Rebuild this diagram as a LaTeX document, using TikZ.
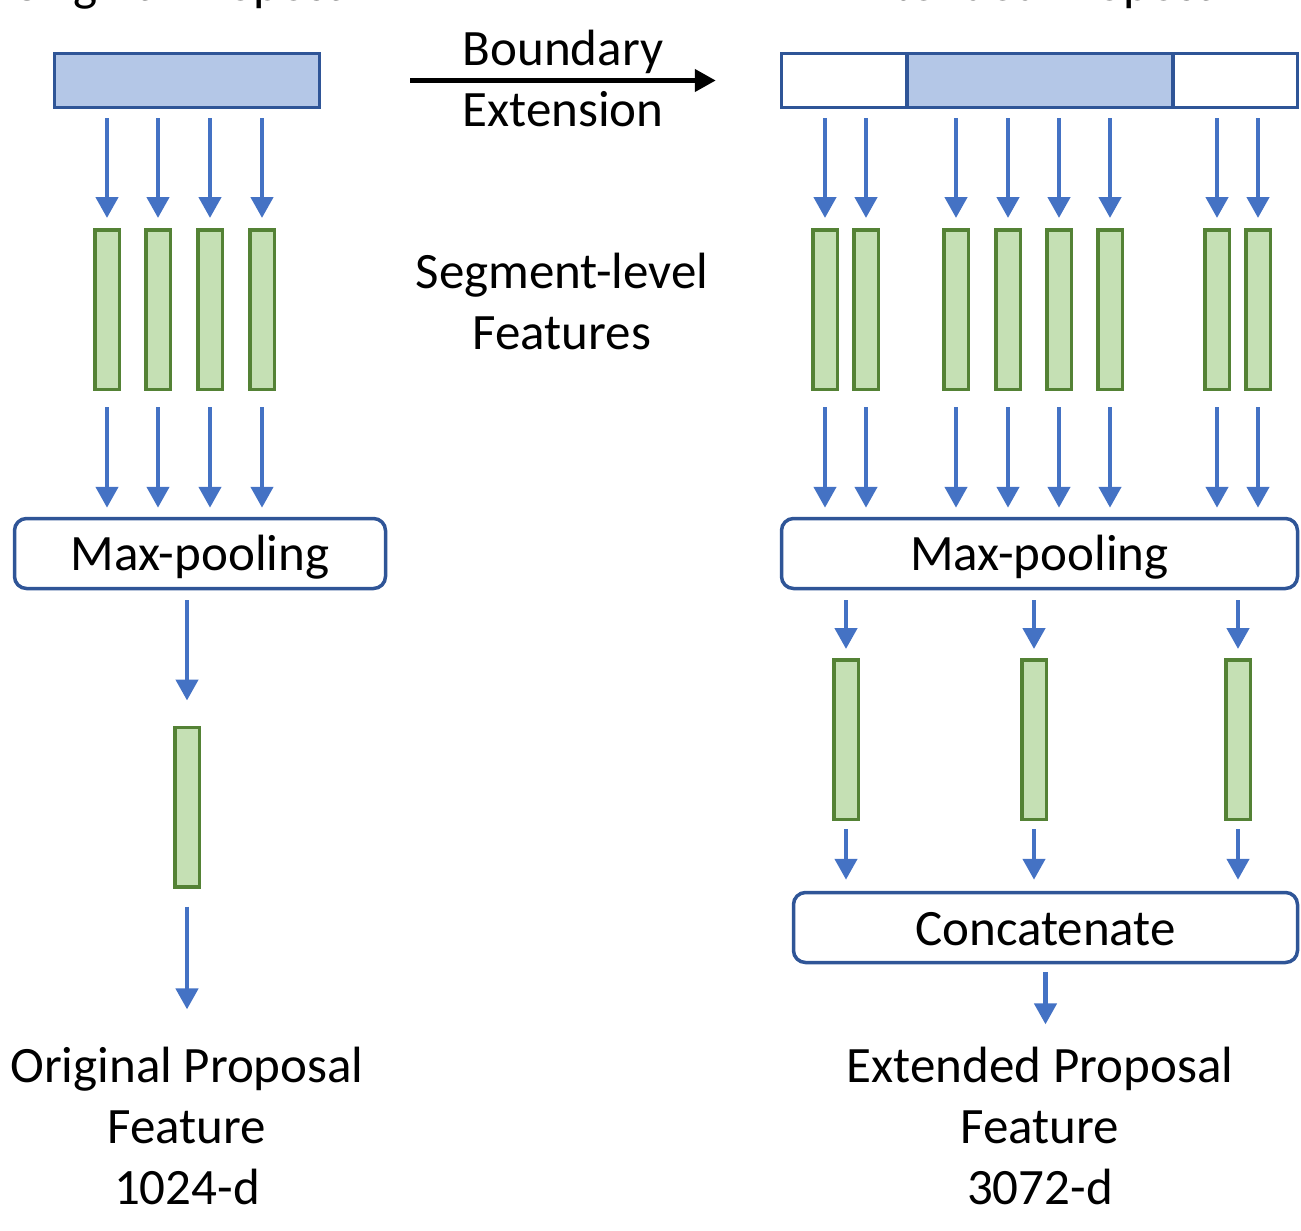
\documentclass[tikz,border=0pt]{standalone}
\usepackage{fontspec}
\setmainfont{Carlito}
\usetikzlibrary{arrows.meta}
\definecolor{arrowblue}{HTML}{4472C4}
\definecolor{propfill}{HTML}{B4C7E7}
\definecolor{propline}{HTML}{2F5597}
\definecolor{featfill}{HTML}{C5E0B4}
\definecolor{featline}{HTML}{548235}
\tikzset{
  prop/.style={draw=propline, line width=3.5pt, inner sep=0pt, minimum height=54pt},
  feat/.style={draw=featline, fill=featfill, line width=3.5pt, inner sep=0pt, minimum width=24.5pt, minimum height=159.5pt},
  opbox/.style={draw=propline, line width=3.5pt, rounded corners=12pt, inner sep=0pt, minimum height=70pt},
  flow/.style={draw=arrowblue, line width=4.5pt, -{Triangle[width=22pt,length=21pt]}, shorten <=9pt, shorten >=10pt},
  txt/.style={font=\fontsize{51}{61}\selectfont, align=center, inner sep=0pt, anchor=base}
}
\begin{document}
\begin{tikzpicture}[x=1pt, y=-1pt]
\useasboundingbox (0,0) rectangle (1301,1231);
\clip (0,0) rectangle (1301,1231);
% titles, cut off at the top
\node[txt] (ttlo) at (187,1) {Original Proposal};
\node[txt] (ttle) at (1040,1) {Extended Proposal};
% proposals
\node[prop, fill=propfill, minimum width=265pt] (orig) at (187,80.5) {};
\node[prop, minimum width=125.5pt] (extl) at (844.25,80.5) {};
\node[prop, fill=propfill, minimum width=266pt] (extm) at (1040,80.5) {};
\node[prop, minimum width=124.5pt] (extr) at (1235.25,80.5) {};
\draw[line width=4.5pt, -{Triangle[width=22pt,length=21pt]}, shorten <=89pt, shorten >=64pt] (orig.east) -- (extl.west);
\node[txt] (bnd) at (563,66) {Boundary};
\node[txt] (extn) at (563,126) {Extension};
\node[txt] (seg) at (562,349) {Segment-level\\Features};
% max-pooling and concatenation
\node[opbox, minimum width=371pt] (mpl) at (200,553.5) {};
\node[txt] (mpltxt) at (200,570) {Max-pooling};
\node[opbox, minimum width=516pt] (mpr) at (1039.5,553.5) {};
\node[txt] (mprtxt) at (1039.5,570) {Max-pooling};
\node[opbox, minimum width=504pt] (cat) at (1045.5,927.5) {};
\node[txt] (cattxt) at (1045.5,945) {Concatenate};
% outputs
\node[txt] (outo) at (187,1204) {Original Proposal\\Feature\\1024-d};
\node[txt] (oute) at (1040,1204) {Extended Proposal\\Feature\\3072-d};
% segment-level features, left
\foreach \i/\x in {1/107,2/158,3/210,4/262} {
  \node[feat] (l\i) at (\x,309.5) {};
  \draw[flow] (l\i.north |- orig.south) -- (l\i.north);
  \draw[flow, shorten <=16pt, shorten >=9pt] (l\i.south) -- (l\i.south |- mpl.north);
}
% segment-level features, right
\foreach \i/\x in {1/825,2/866,3/956,4/1008,5/1059,6/1110,7/1217,8/1258} {
  \node[feat] (r\i) at (\x,309.5) {};
  \draw[flow] (r\i.north |- extm.south) -- (r\i.north);
  \draw[flow, shorten <=16pt, shorten >=9pt] (r\i.south) -- (r\i.south |- mpr.north);
}
% pooled features
\node[feat] (pl) at (187,807) {};
\draw[flow, shorten <=10pt, shorten >=25pt] (pl.north |- mpl.south) -- (pl.north);
\draw[flow, shorten <=18pt, shorten >=37pt] (pl.south) -- (outo.north);
\foreach \i/\x in {1/846,2/1034,3/1238} {
  \node[feat] (p\i) at (\x,739.5) {};
  \draw[flow, shorten <=10pt, shorten >=9pt] (p\i.north |- mpr.south) -- (p\i.north);
  \draw[flow, shorten <=8pt, shorten >=11pt] (p\i.south) -- (p\i.south |- cat.north);
}
\draw[flow, shorten <=8pt, shorten >=22pt] (cat.south) -- (cat.south |- oute.north);
\end{tikzpicture}
\end{document}
